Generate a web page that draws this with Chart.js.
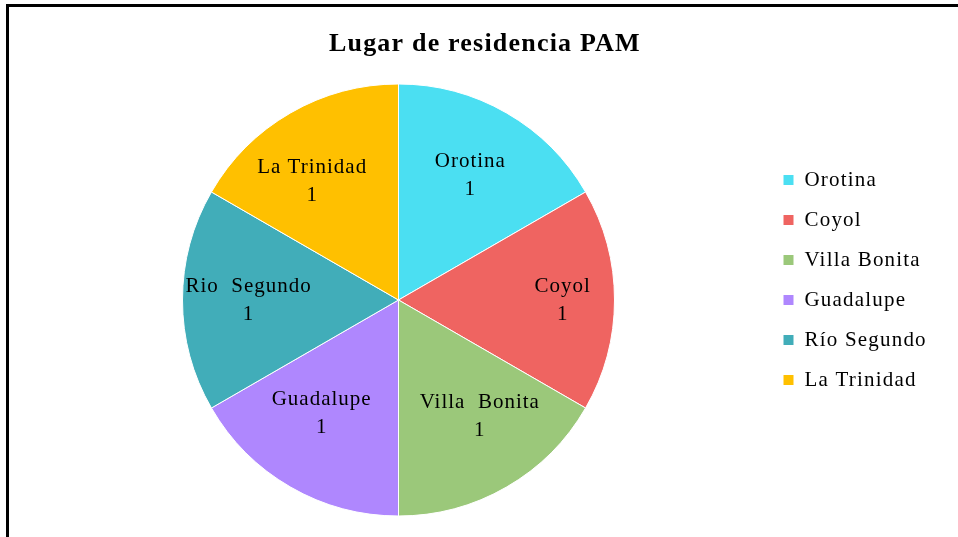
<!DOCTYPE html>
<html>
<head>
<meta charset="utf-8">
<script src="https://cdn.jsdelivr.net/npm/chart.js@4.4.1/dist/chart.umd.min.js"></script>
<style>
html, body { margin: 0; padding: 0; background: #fff; }
#wrap { position: relative; width: 958px; height: 537px; overflow: hidden; }
#frame { position: absolute; left: 6px; top: 4px; right: -10px; bottom: -10px; border-left: 3px solid #000; border-top: 3px solid #000; }
canvas { position: absolute; left: 0; top: 0; }
</style>
</head>
<body>
<div id="wrap">
  <div id="frame"></div>
  <canvas id="pieChart" width="958" height="537"></canvas>
</div>
<script>
// data
const places = ['Orotina', 'Coyol', 'Villa Bonita', 'Guadalupe', 'Río Segundo', 'La Trinidad'];
const sliceLabels = ['Orotina', 'Coyol', 'Villa  Bonita', 'Guadalupe', 'Rio  Segundo', 'La Trinidad'];
const counts = [1, 1, 1, 1, 1, 1];
const colors = ['#4BDFF2', '#EF6461', '#9BC87A', '#AF87FE', '#41ADB9', '#FFC000'];

// label placement: share of the radius, and a small turn (degrees) off the slice middle
const labelRadius = [0.665, 0.76, 0.656, 0.636, 0.694, 0.68];
const labelTurn = [0, 0, -5, 4, 0, -6];

const serif = '"Liberation Serif", "Times New Roman", serif';
const spacing = '1.2px';

// legend width is needed to put its boxes at the right spot
const m = document.createElement('canvas').getContext('2d');
m.font = '21px ' + serif;
m.letterSpacing = spacing;
const textW = Math.max(...places.map(p => m.measureText(p).width));
const legendW = 19 + 11 + 10.5 + textW + 10;
const padRight = 958 - 764 - legendW;

const spacingPlugin = {
    id: 'spacing',
    beforeLayout(chart) { chart.ctx.letterSpacing = spacing; },
    beforeDraw(chart) { chart.ctx.letterSpacing = spacing; }
};

const labelPlugin = {
    id: 'sliceLabels',
    afterDatasetsDraw(chart) {
        const ctx = chart.ctx;
        const meta = chart.getDatasetMeta(0);
        ctx.save();
        ctx.font = '21px ' + serif;
        ctx.letterSpacing = '1px';
        ctx.fillStyle = '#000';
        ctx.textAlign = 'center';
        ctx.textBaseline = 'middle';
        meta.data.forEach((arc, i) => {
            const mid = (arc.startAngle + arc.endAngle) / 2 + labelTurn[i] * Math.PI / 180;
            const r = arc.outerRadius * labelRadius[i];
            const x = arc.x + Math.cos(mid) * r;
            const y = arc.y + Math.sin(mid) * r;
            ctx.fillText(sliceLabels[i], x, y - 14);
            ctx.fillText(String(counts[i]), x, y + 14);
        });
        ctx.restore();
    }
};

new Chart(document.getElementById('pieChart').getContext('2d'), {
    type: 'pie',
    data: {
        labels: places,
        datasets: [{
            data: counts,
            backgroundColor: colors,
            borderColor: '#ffffff',
            borderWidth: 1,
            radius: 216
        }]
    },
    options: {
        responsive: false,
        animation: false,
        layout: { padding: { top: 23, left: 33, right: padRight, bottom: 0 } },
        plugins: {
            title: {
                display: true,
                text: 'Lugar de residencia PAM',
                color: '#000',
                font: { family: serif, size: 26, weight: 'bold' },
                padding: { top: 5.4, bottom: 3.4 }
            },
            legend: {
                position: 'right',
                labels: {
                    boxWidth: 11,
                    boxHeight: 11,
                    padding: 19,
                    color: '#000',
                    font: { family: serif, size: 21 }
                }
            },
            tooltip: { enabled: false }
        }
    },
    plugins: [spacingPlugin, labelPlugin]
});
</script>
</body>
</html>
